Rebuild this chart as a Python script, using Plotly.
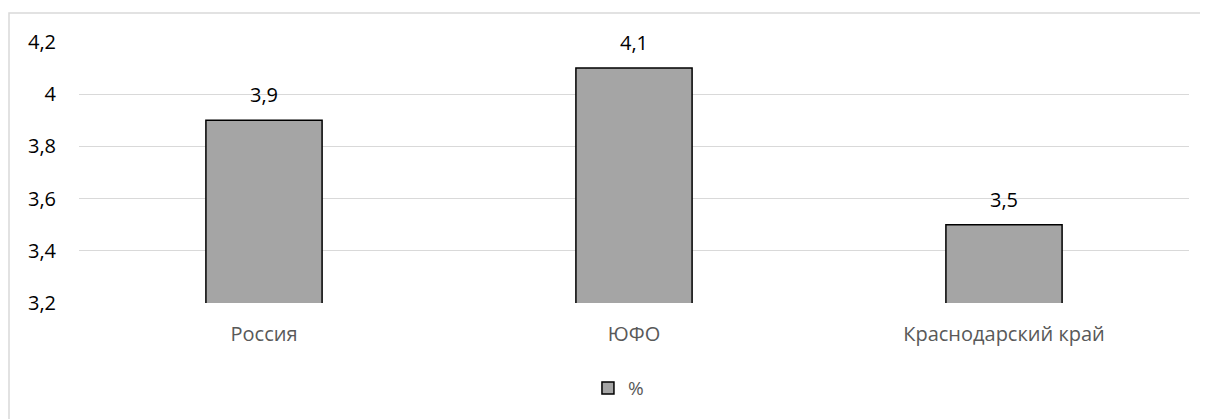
import plotly.graph_objects as go

categories = ["Россия", "ЮФО", "Краснодарский край"]
values = [3.9, 4.1, 3.5]
series_name = "%"
tick_vals = [3.2, 3.4, 3.6, 3.8, 4.0, 4.2]

font_family = "Open Sans, Noto Sans, Liberation Sans, sans-serif"

fig = go.Figure()
fig.add_trace(go.Bar(
    x=categories, y=values, name=series_name,
    marker=dict(color="#a5a5a5", line=dict(color="#000000", width=1.5)),
    width=0.314, showlegend=True,
))

for c, v in zip(categories, values):
    fig.add_annotation(x=c, y=v, text=str(v).replace(".", ","), showarrow=False,
                       yanchor="bottom", yshift=10,
                       font=dict(size=20, color="#000000", family=font_family))

fig.update_layout(
    width=1200, height=411,
    margin=dict(l=71, r=19, t=34, b=116),
    paper_bgcolor="white", plot_bgcolor="white",
    separators=", ",
    font=dict(family=font_family, size=20, color="#000000"),
    showlegend=True,
    legend=dict(orientation="h", x=0.486, xanchor="center", y=-0.326, yanchor="middle",
                font=dict(size=19, color="#595959"), itemwidth=30),
    xaxis=dict(showgrid=False, showline=False, ticks="", ticklabelstandoff=17,
               tickfont=dict(size=20, color="#595959", family=font_family)),
    yaxis=dict(range=[3.2, 4.2], tickvals=tick_vals, showgrid=True,
               gridcolor="#d9d9d9", gridwidth=1, zeroline=False, showline=False,
               ticks="", ticklabelstandoff=22,
               tickfont=dict(size=20, color="#000000", family=font_family)),
    bargap=0.686,
    shapes=[dict(type="rect", xref="paper", yref="paper",
                 x0=-70/1110, x1=1125/1110, y0=-140/261, y1=(261+29)/261,
                 line=dict(color="#d9d9d9", width=1.5), layer="below")],
)

fig.write_html("out.html")
